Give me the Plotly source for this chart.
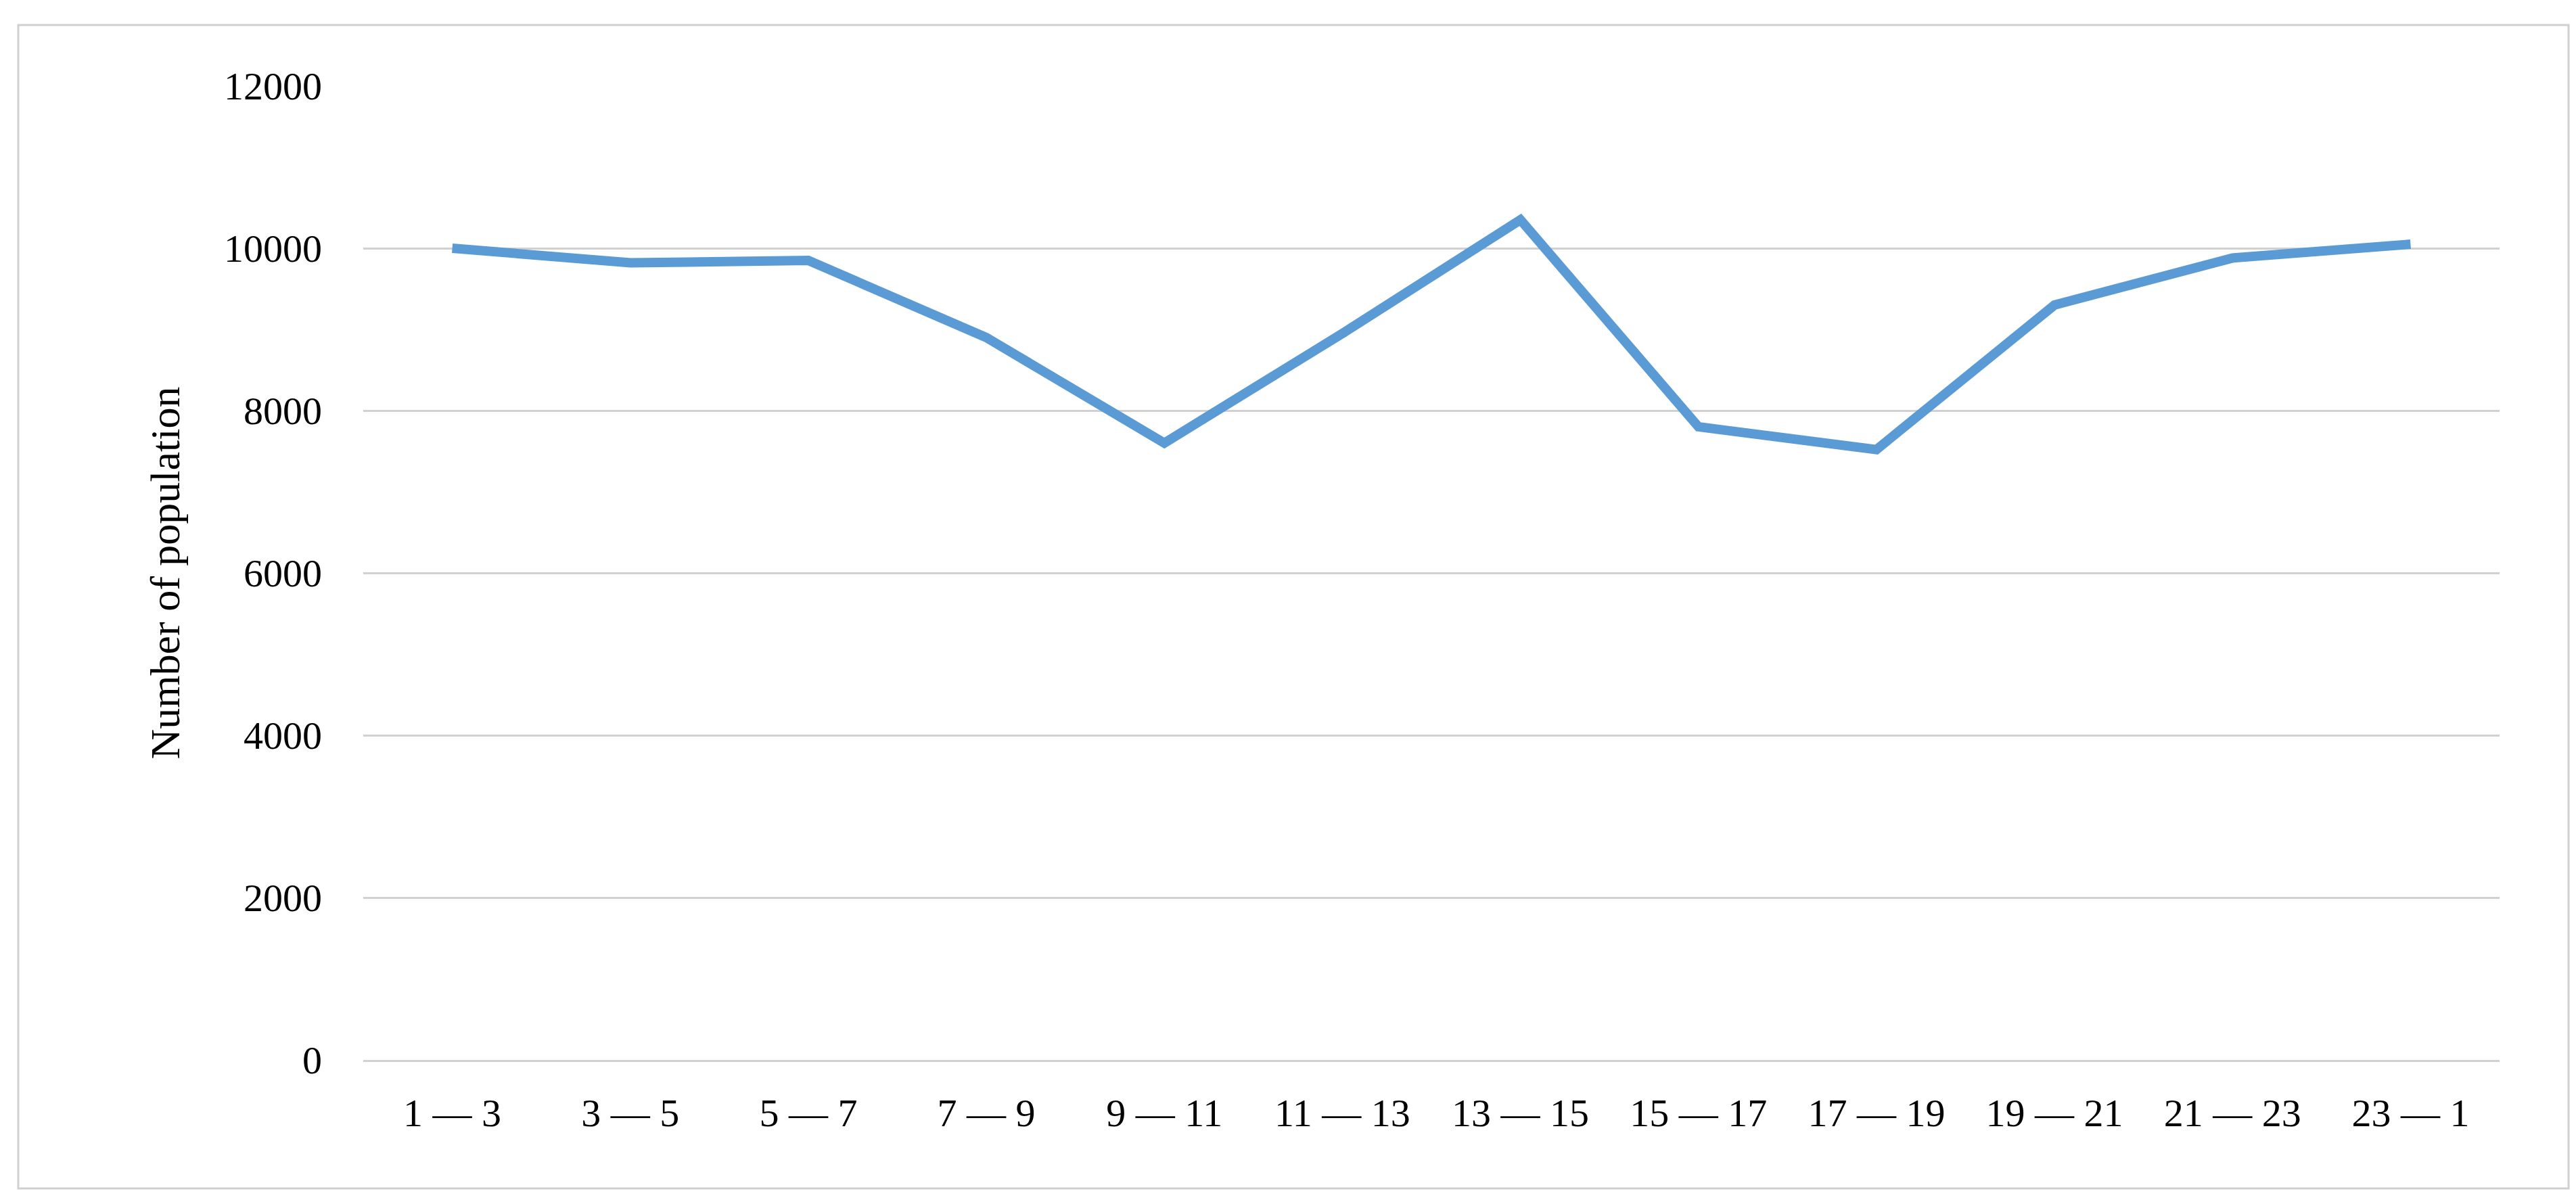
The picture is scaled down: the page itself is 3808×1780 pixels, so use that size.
import plotly.graph_objects as go

# time intervals (hours)
categories = ["1 — 3", "3 — 5", "5 — 7", "7 — 9", "9 — 11", "11 — 13",
              "13 — 15", "15 — 17", "17 — 19", "19 — 21", "21 — 23", "23 — 1"]
population = [10000, 9820, 9850, 8900, 7600, 8950,
              10350, 7800, 7520, 9300, 9880, 10050]
y_ticks = [0, 2000, 4000, 6000, 8000, 10000, 12000]

font_family = "Liberation Serif, DejaVu Serif, serif"

fig = go.Figure(
    data=[
        go.Scatter(
            x=categories,
            y=population,
            mode="lines",
            line=dict(color="#5B9BD5", width=14),
            showlegend=False,
        )
    ],
    layout=go.Layout(
        width=3808,
        height=1780,
        margin=dict(l=529, r=121, t=119, b=221),
        paper_bgcolor="white",
        plot_bgcolor="white",
        font=dict(family=font_family, size=58, color="black"),
        xaxis=dict(
            range=[-0.5, len(categories) - 0.5],
            showgrid=False,
            showline=True,
            linecolor="#d0d0d0",
            linewidth=3,
            ticks="",
            ticklabelstandoff=25,
        ),
        yaxis=dict(
            range=[0, 12000],
            tickvals=y_ticks,
            ticktext=[str(v) for v in y_ticks],
            showgrid=True,
            gridcolor="#d0d0d0",
            gridwidth=3,
            zeroline=False,
            ticks="",
            ticklabelstandoff=60,
            title=dict(text="Number of population", standoff=45,
                       font=dict(size=62)),
        ),
        shapes=[
            dict(
                type="rect",
                xref="paper",
                yref="paper",
                x0=-0.1615,
                x1=1.0323,
                y0=-0.132,
                y1=1.0625,
                line=dict(color="#d0d0d0", width=3),
            )
        ],
    ),
)

fig.write_html("out.html")
